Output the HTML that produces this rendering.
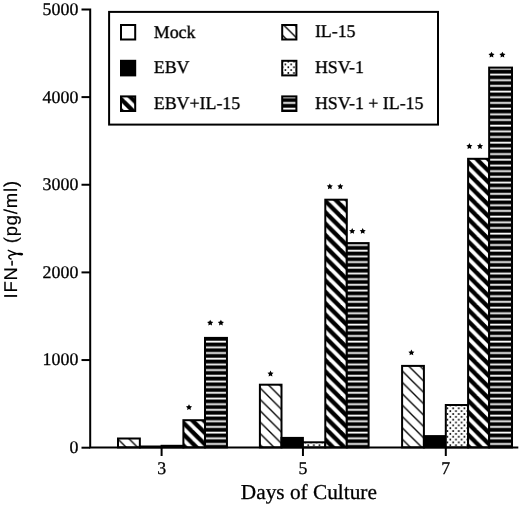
<!DOCTYPE html>
<html><head><meta charset="utf-8"><style>
html,body{margin:0;padding:0;background:#fff;}
svg{display:block;text-rendering:geometricPrecision;filter:grayscale(1);}
.s{font-family:"Liberation Serif",serif;font-size:17.85px;fill:#000;stroke:#000;stroke-width:0.3px;}
</style></head><body>
<svg width="520" height="505" viewBox="0 0 520 505">
<defs><pattern id="thin" patternUnits="userSpaceOnUse" x="0" y="0" width="11.368" height="11.368"><rect width="11.368" height="11.368" fill="#fff"/><g stroke="#000" stroke-width="1.35"><line x1="-45.55" y1="-20" x2="14.45" y2="40"/><line x1="-34.19" y1="-20" x2="25.81" y2="40"/><line x1="-22.82" y1="-20" x2="37.18" y2="40"/><line x1="-11.45" y1="-20" x2="48.55" y2="40"/><line x1="-0.08" y1="-20" x2="59.92" y2="40"/><line x1="11.29" y1="-20" x2="71.29" y2="40"/><line x1="22.65" y1="-20" x2="82.65" y2="40"/></g></pattern><pattern id="thick" patternUnits="userSpaceOnUse" x="0" y="0" width="11.368" height="11.368"><rect width="11.368" height="11.368" fill="#fff"/><g stroke="#000" stroke-width="4.3"><line x1="-43.4" y1="-20" x2="16.6" y2="40"/><line x1="-32.04" y1="-20" x2="27.96" y2="40"/><line x1="-20.67" y1="-20" x2="39.33" y2="40"/><line x1="-9.3" y1="-20" x2="50.7" y2="40"/><line x1="2.07" y1="-20" x2="62.07" y2="40"/><line x1="13.44" y1="-20" x2="73.44" y2="40"/><line x1="24.8" y1="-20" x2="84.8" y2="40"/></g></pattern><pattern id="hstripe" patternUnits="userSpaceOnUse" x="0" y="0" width="10" height="5.684"><rect width="10" height="5.684" fill="#000"/><rect y="-0.28" width="10" height="1.8" fill="#fff"/><rect y="5.4" width="10" height="1.8" fill="#fff"/></pattern><pattern id="dots" patternUnits="userSpaceOnUse" x="0" y="0" width="5.684" height="5.684"><rect width="5.684" height="5.684" fill="#fff"/><g fill="#000"><circle cx="4.09" cy="4.79" r="0.95"/><circle cx="1.25" cy="1.95" r="0.95"/></g></pattern></defs>
<rect x="118" y="438.5" width="21.85" height="8.9" fill="url(#thin)" stroke="#000" stroke-width="2"/>
<rect x="139.85" y="446.5" width="21.75" height="0.9" fill="#000" stroke="#000" stroke-width="2"/>
<rect x="161.6" y="445.8" width="21.8" height="1.6" fill="url(#dots)" stroke="#000" stroke-width="2"/>
<rect x="183.4" y="420.2" width="21.6" height="27.2" fill="url(#thick)" stroke="#000" stroke-width="2"/>
<rect x="205" y="337.9" width="21.95" height="109.5" fill="url(#hstripe)" stroke="#000" stroke-width="2"/>
<rect x="259.9" y="384.7" width="21.6" height="62.7" fill="url(#thin)" stroke="#000" stroke-width="2"/>
<rect x="281.5" y="437.9" width="21.4" height="9.5" fill="#000" stroke="#000" stroke-width="2"/>
<rect x="302.9" y="442.3" width="22.4" height="5.1" fill="url(#dots)" stroke="#000" stroke-width="2"/>
<rect x="325.3" y="199.7" width="21.5" height="247.7" fill="url(#thick)" stroke="#000" stroke-width="2"/>
<rect x="346.8" y="243.1" width="21.8" height="204.3" fill="url(#hstripe)" stroke="#000" stroke-width="2"/>
<rect x="402.1" y="365.9" width="21.8" height="81.5" fill="url(#thin)" stroke="#000" stroke-width="2"/>
<rect x="423.9" y="436.1" width="21.9" height="11.3" fill="#000" stroke="#000" stroke-width="2"/>
<rect x="445.8" y="405" width="22.3" height="42.4" fill="url(#dots)" stroke="#000" stroke-width="2"/>
<rect x="468.1" y="158.8" width="21.05" height="288.6" fill="url(#thick)" stroke="#000" stroke-width="2"/>
<rect x="489.15" y="67.6" width="22.85" height="379.8" fill="url(#hstripe)" stroke="#000" stroke-width="2"/>
<path d="M81.5 9.5H90.2V447.4H518.3" fill="none" stroke="#000" stroke-width="2"/>
<path d="M81.5 447.7H90.2" stroke="#000" stroke-width="2"/>
<path d="M81.5 360.05H90.2" stroke="#000" stroke-width="2"/>
<path d="M81.5 272.4H90.2" stroke="#000" stroke-width="2"/>
<path d="M81.5 184.75H90.2" stroke="#000" stroke-width="2"/>
<path d="M81.5 97.1H90.2" stroke="#000" stroke-width="2"/>
<path d="M161.6 447.4V456" stroke="#000" stroke-width="2"/>
<path d="M302.95 447.4V456" stroke="#000" stroke-width="2"/>
<path d="M445.8 447.4V456" stroke="#000" stroke-width="2"/>
<text x="78.3" y="453.1" text-anchor="end" class="s">0</text>
<text x="78.3" y="365.45" text-anchor="end" class="s">1000</text>
<text x="78.3" y="277.8" text-anchor="end" class="s">2000</text>
<text x="78.3" y="190.15" text-anchor="end" class="s">3000</text>
<text x="78.3" y="102.5" text-anchor="end" class="s">4000</text>
<text x="78.3" y="14.85" text-anchor="end" class="s">5000</text>
<text x="161.6" y="474.1" text-anchor="middle" class="s">3</text>
<text x="302.95" y="474.1" text-anchor="middle" class="s">5</text>
<text x="445.8" y="474.1" text-anchor="middle" class="s">7</text>
<text x="240.8" y="499.1" class="s" style="font-size:21.3px">Days of Culture</text>
<text transform="translate(17.4 239.3) rotate(-90)" text-anchor="middle" style="font-family:'Liberation Sans',sans-serif;font-size:18.5px;letter-spacing:0.8px;stroke:#000;stroke-width:0.2px">IFN-<tspan style="fill:none;stroke:none">γ</tspan> (pg/ml)</text>
<path d="M8.3 250.4C11 251.5 14 252.7 16.6 253.6C19 254.4 22.3 255.3 22.4 254.3C22.5 253.2 19 253.2 16.6 253.8C13 254.6 9.6 254.9 8.9 256.3C8.4 257.6 9.6 258.5 11 259" fill="none" stroke="#000" stroke-width="1.5" stroke-linecap="round"/>
<path d="M18.5 253.9C20 254.3 21.8 254.9 21.9 254.3C22 253.7 20 253.6 18.5 253.9Z" fill="#000"/>
<rect x="109.1" y="11.9" width="328.9" height="112.7" fill="#fff" stroke="#000" stroke-width="2"/>
<rect x="121" y="25" width="14.2" height="14.5" fill="#fff" stroke="#000" stroke-width="2"/>
<text x="153.8" y="37.9" class="s">Mock</text>
<rect x="282.2" y="25" width="14.2" height="14.5" fill="url(#thin)" stroke="#000" stroke-width="2"/>
<text x="314.9" y="37.4" class="s">IL-15</text>
<rect x="121" y="60.8" width="14.2" height="14.6" fill="#000" stroke="#000" stroke-width="2"/>
<text x="153.8" y="73.4" class="s">EBV</text>
<rect x="282.2" y="60.8" width="14.2" height="14.6" fill="url(#dots)" stroke="#000" stroke-width="2"/>
<text x="314.9" y="72.9" class="s">HSV-1</text>
<rect x="121" y="96.4" width="14.2" height="14.6" fill="url(#thick)" stroke="#000" stroke-width="2"/>
<text x="153.8" y="109" class="s">EBV+IL-15</text>
<rect x="282.2" y="96.4" width="14.2" height="14.6" fill="url(#hstripe)" stroke="#000" stroke-width="2"/>
<text x="314.9" y="108.5" class="s">HSV-1 + IL-15</text>
<g fill="#000"><polygon points="189,404.2 189.94,406.11 192.04,406.41 190.52,407.89 190.88,409.99 189,409 187.12,409.99 187.48,407.89 185.96,406.41 188.06,406.11"/><polygon points="270.5,370.6 271.44,372.51 273.54,372.81 272.02,374.29 272.38,376.39 270.5,375.4 268.62,376.39 268.98,374.29 267.46,372.81 269.56,372.51"/><polygon points="411.4,349.5 412.34,351.41 414.44,351.71 412.92,353.19 413.28,355.29 411.4,354.3 409.52,355.29 409.88,353.19 408.36,351.71 410.46,351.41"/><polygon points="210.2,319.7 211.14,321.61 213.24,321.91 211.72,323.39 212.08,325.49 210.2,324.5 208.32,325.49 208.68,323.39 207.16,321.91 209.26,321.61"/><polygon points="220.9,319.7 221.84,321.61 223.94,321.91 222.42,323.39 222.78,325.49 220.9,324.5 219.02,325.49 219.38,323.39 217.86,321.91 219.96,321.61"/><polygon points="329.8,183.4 330.74,185.31 332.84,185.61 331.32,187.09 331.68,189.19 329.8,188.2 327.92,189.19 328.28,187.09 326.76,185.61 328.86,185.31"/><polygon points="340.3,183.4 341.24,185.31 343.34,185.61 341.82,187.09 342.18,189.19 340.3,188.2 338.42,189.19 338.78,187.09 337.26,185.61 339.36,185.31"/><polygon points="352.2,228 353.14,229.91 355.24,230.21 353.72,231.69 354.08,233.79 352.2,232.8 350.32,233.79 350.68,231.69 349.16,230.21 351.26,229.91"/><polygon points="362.7,228 363.64,229.91 365.74,230.21 364.22,231.69 364.58,233.79 362.7,232.8 360.82,233.79 361.18,231.69 359.66,230.21 361.76,229.91"/><polygon points="469.4,143.1 470.34,145.01 472.44,145.31 470.92,146.79 471.28,148.89 469.4,147.9 467.52,148.89 467.88,146.79 466.36,145.31 468.46,145.01"/><polygon points="480,143.1 480.94,145.01 483.04,145.31 481.52,146.79 481.88,148.89 480,147.9 478.12,148.89 478.48,146.79 476.96,145.31 479.06,145.01"/><polygon points="491.5,51.7 492.44,53.61 494.54,53.91 493.02,55.39 493.38,57.49 491.5,56.5 489.62,57.49 489.98,55.39 488.46,53.91 490.56,53.61"/><polygon points="502.4,51.7 503.34,53.61 505.44,53.91 503.92,55.39 504.28,57.49 502.4,56.5 500.52,57.49 500.88,55.39 499.36,53.91 501.46,53.61"/></g>
</svg>
</body></html>
